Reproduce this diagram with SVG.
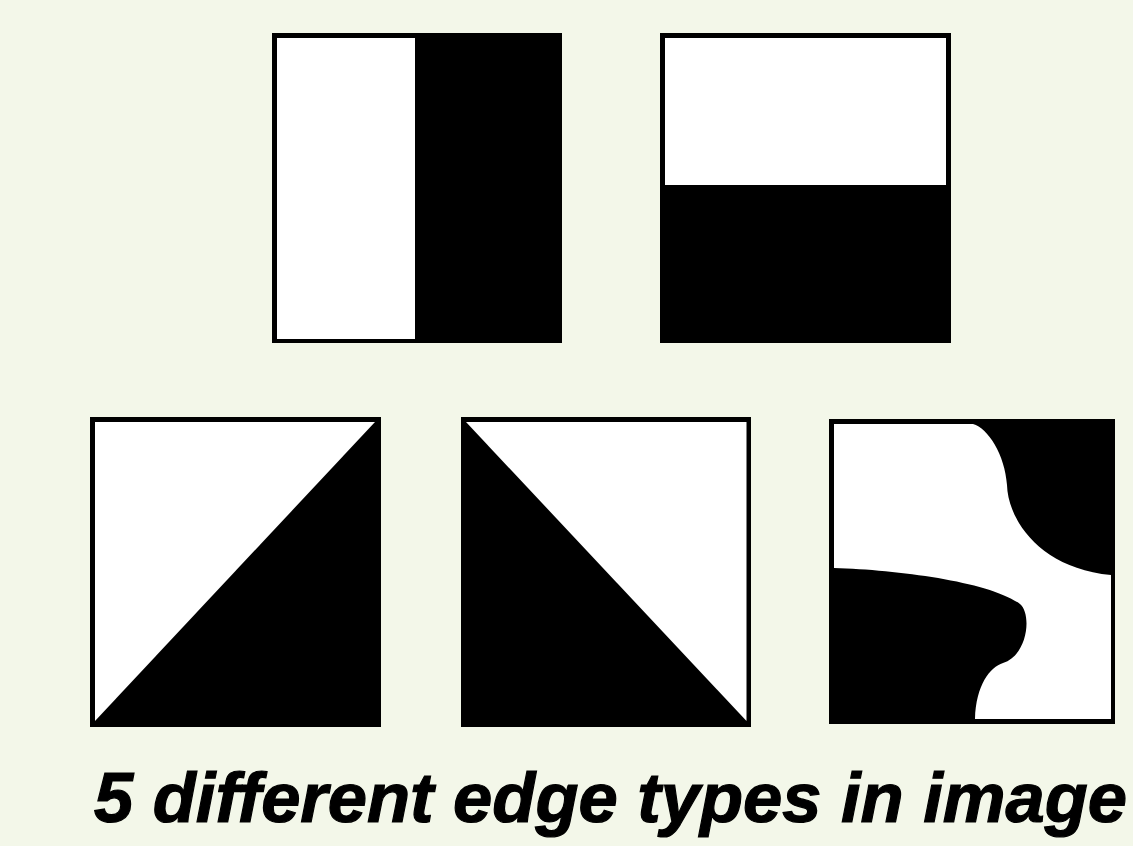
<svg xmlns="http://www.w3.org/2000/svg" width="1133" height="846" viewBox="0 0 1133 846">
<style>
.frame{fill:#000}
.w{fill:#fff}
.k{fill:#000}
.title{font-family:"Liberation Sans",Arial,sans-serif;font-weight:bold;font-style:italic;font-size:70.5px;fill:#000;stroke:#000;stroke-width:1.2px}
</style>
<rect x="0" y="0" width="1133" height="846" fill="#f3f7e9"/>
<g id="edge-vertical">
<rect class="frame" x="272" y="33" width="290" height="310"/>
<rect class="w" x="277" y="38" width="138" height="301"/>
</g>
<g id="edge-horizontal">
<rect class="frame" x="660" y="33" width="291" height="310"/>
<rect class="w" x="665" y="38" width="281" height="147"/>
</g>
<g id="edge-diagonal-up">
<rect class="frame" x="90" y="417" width="291" height="310"/>
<polygon class="w" points="95,422 375,422 95,721"/>
</g>
<g id="edge-diagonal-down">
<rect class="frame" x="461" y="417" width="290" height="310"/>
<polygon class="w" points="466,422 746.5,422 746.5,721"/>
</g>
<g id="edge-curved">
<rect class="frame" x="829" y="419" width="286" height="305"/>
<rect class="w" x="834" y="424" width="277" height="295"/>
<path class="k" d="M973,424 C988,428 1005,455 1007,485 C1008,520 1040,568 1111,575 L1111,424 Z"/>
<path class="k" d="M834,568 C900,570 990,582 1020,604 C1032,614 1028,655 1003,663 C990,667 976,685 975,719 L834,719 Z"/>
</g>
<text class="title" x="94" y="822">5 different edge types in image</text>
</svg>
